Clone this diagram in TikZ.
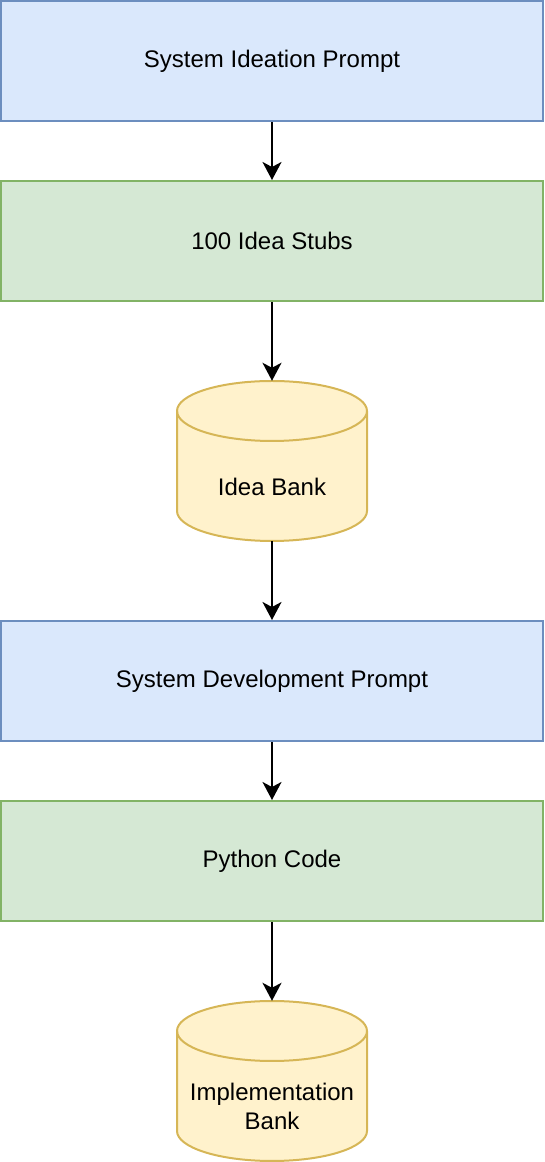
\documentclass[tikz,border=0pt]{standalone}
\usepackage{fontspec}
\setmainfont{Liberation Sans}
\usetikzlibrary{arrows.meta}
\definecolor{bluefill}{HTML}{DAE8FC}
\definecolor{bluedraw}{HTML}{6C8EBF}
\definecolor{greenfill}{HTML}{D5E8D4}
\definecolor{greendraw}{HTML}{82B366}
\definecolor{yelfill}{HTML}{FFF2CC}
\definecolor{yeldraw}{HTML}{D6B656}
\begin{document}
\begin{tikzpicture}[x=1pt,y=1pt,
  txt/.style={font=\fontsize{24}{29}\selectfont, align=center, inner sep=0pt},
  promptbox/.style={txt, draw=bluedraw, fill=bluefill, line width=2pt, minimum width=542pt, minimum height=120pt},
  outbox/.style={txt, draw=greendraw, fill=greenfill, line width=2pt, minimum width=542pt, minimum height=120pt},
  cylframe/.style={inner sep=0pt, minimum width=190pt, minimum height=160pt},
  cylpaint/.style={draw=yeldraw, fill=yelfill, line width=2pt},
  flow/.style={-{Stealth[length=18pt,width=19pt,inset=5pt]}, line width=2pt, black}
]
\useasboundingbox (0,0) rectangle (544,1162);

\node[promptbox] (p1) at (272,1101) {System Ideation Prompt};
\node[outbox] (o1) at (272,921) {100 Idea Stubs};

% cylinder 1
\node[cylframe] (c1) at (272,701) {};
\path[cylpaint] (177,751) -- (177,651) arc[start angle=180, end angle=360, x radius=95, y radius=30]
  -- (367,751) arc[start angle=0, end angle=180, x radius=95, y radius=30] -- cycle;
\draw[cylpaint, fill=none] (177,751) arc[start angle=180, end angle=360, x radius=95, y radius=30];
\node[txt] (c1t) at (272,675) {Idea Bank};

\node[promptbox] (p2) at (272,481) {System Development Prompt};
\node[outbox] (o2) at (272,301) {Python Code};

% cylinder 2
\node[cylframe] (c2) at (272,81) {};
\path[cylpaint] (177,131) -- (177,31) arc[start angle=180, end angle=360, x radius=95, y radius=30]
  -- (367,131) arc[start angle=0, end angle=180, x radius=95, y radius=30] -- cycle;
\draw[cylpaint, fill=none] (177,131) arc[start angle=180, end angle=360, x radius=95, y radius=30];
\node[txt] (c2t) at (272,56) {Implementation\\Bank};

\draw[flow] (p1.south) -- (o1.north);
\draw[flow] (o1.south) -- (c1.north);
\draw[flow] (c1.south) -- (p2.north);
\draw[flow] (p2.south) -- (o2.north);
\draw[flow] (o2.south) -- (c2.north);
\end{tikzpicture}
\end{document}
